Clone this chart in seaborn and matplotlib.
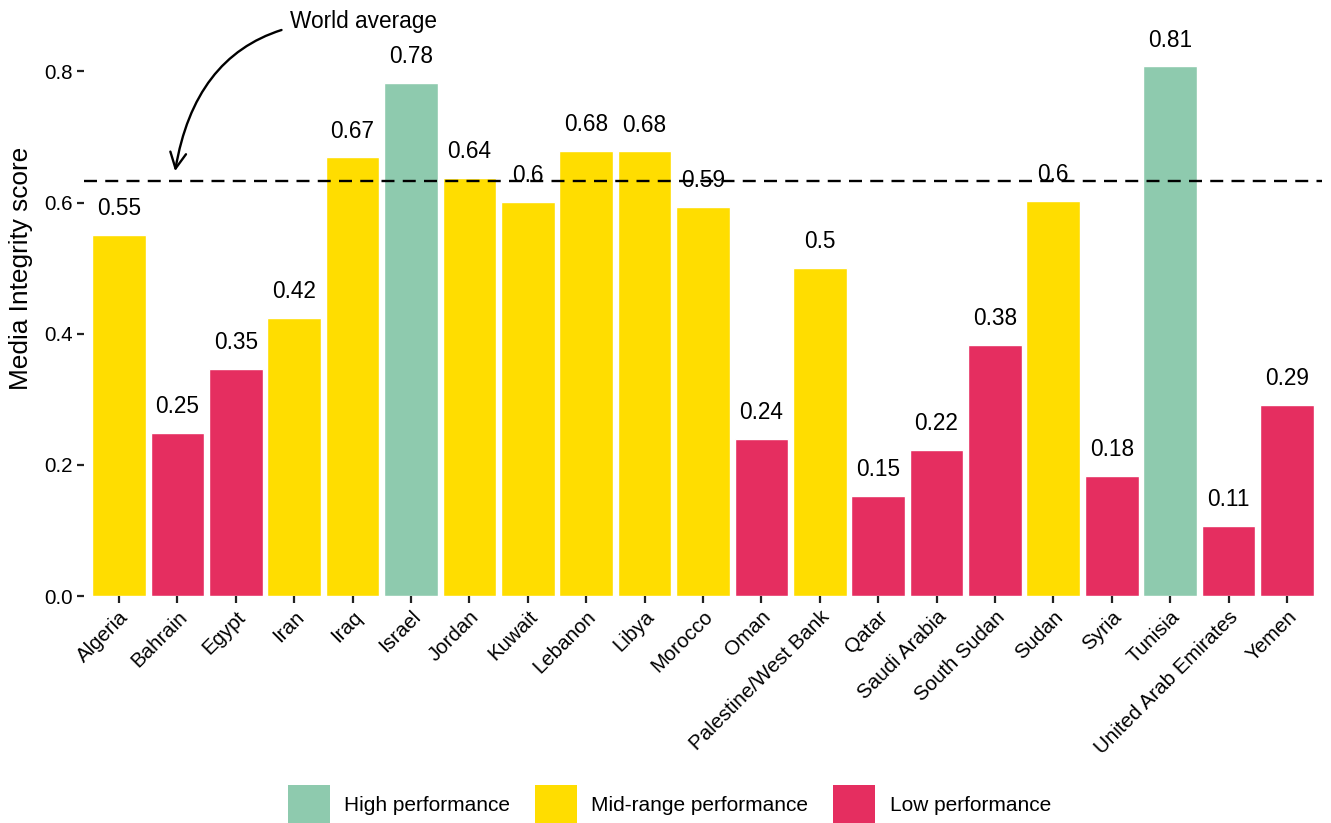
import matplotlib
matplotlib.use("Agg")
import matplotlib.pyplot as plt
from matplotlib.patches import Patch
import seaborn as sns
import pandas as pd

# data
countries = ["Algeria", "Bahrain", "Egypt", "Iran", "Iraq", "Israel", "Jordan",
             "Kuwait", "Lebanon", "Libya", "Morocco", "Oman", "Palestine/West Bank",
             "Qatar", "Saudi Arabia", "South Sudan", "Sudan", "Syria", "Tunisia",
             "United Arab Emirates", "Yemen"]
scores = [0.551, 0.249, 0.347, 0.424, 0.669, 0.783, 0.638, 0.601, 0.679, 0.678,
          0.594, 0.240, 0.501, 0.153, 0.223, 0.383, 0.603, 0.183, 0.808, 0.107, 0.292]
performance = ["Mid", "Low", "Low", "Mid", "Mid", "High", "Mid", "Mid", "Mid", "Mid",
               "Mid", "Low", "Mid", "Low", "Low", "Low", "Mid", "Low", "High", "Low", "Low"]
world_average = 0.633

categories = ["High", "Mid", "Low"]
category_labels = ["High performance", "Mid-range performance", "Low performance"]
colors = {"High": "#8ECAAE", "Mid": "#FFDD00", "Low": "#E52E60"}

df = pd.DataFrame({"country": countries, "score": scores, "performance": performance})

sns.set_style("white")
plt.rcParams["font.family"] = ["Liberation Sans", "DejaVu Sans"]
for key in ["text.color", "axes.labelcolor", "xtick.color", "ytick.color"]:
    plt.rcParams[key] = "black"

fig = plt.figure(figsize=(13.31, 8.23), dpi=100)
ax = fig.add_axes([0.0631, 0.2758, 0.9301, 0.717])

sns.barplot(data=df, x="country", y="score", hue="performance", palette=colors,
            dodge=False, width=0.92, legend=False, saturation=1, ax=ax)

for i, v in enumerate(scores):
    ax.text(i, v + 0.04, f"{round(v, 2):g}", ha="center", va="center", fontsize=16.3)

ax.axhline(world_average, color="black", lw=1.7, dashes=(5.5, 3.5))

ax.annotate("World average", xy=(0.96, 0.648), xytext=(2.93, 0.876),
            fontsize=16.3, ha="left", va="center",
            arrowprops=dict(arrowstyle="->,head_length=0.7,head_width=0.35",
                            connectionstyle="arc3,rad=0.45", color="black", lw=1.7,
                            shrinkA=4, shrinkB=0))

ax.set_xlim(-0.6, 20.6)
ax.set_ylim(0, 0.9)
ax.set_yticks([0.0, 0.2, 0.4, 0.6, 0.8])
ax.set_yticklabels(["0.0", "0.2", "0.4", "0.6", "0.8"])
ax.set_xlabel("")
ax.set_ylabel("Media Integrity score", fontsize=18.9)
ax.yaxis.set_label_coords(-0.041, 0.556)
ax.tick_params(axis="both", length=5, width=1.6, color="#222222", labelsize=14.8,
               pad=3, left=True, bottom=True)
plt.setp(ax.get_xticklabels(), rotation=45, ha="right", rotation_mode="anchor")
sns.despine(ax=ax, left=True, bottom=True)

handles = [Patch(facecolor=colors[c], edgecolor="none") for c in categories]
fig.legend(handles, category_labels, loc="center", bbox_to_anchor=(0.503, 0.022),
           ncol=3, frameon=False, fontsize=15, handlelength=2.0, handleheight=2.6,
           handletextpad=0.7, columnspacing=1.2, borderpad=0.2)

fig.savefig("out.png", dpi=100)
